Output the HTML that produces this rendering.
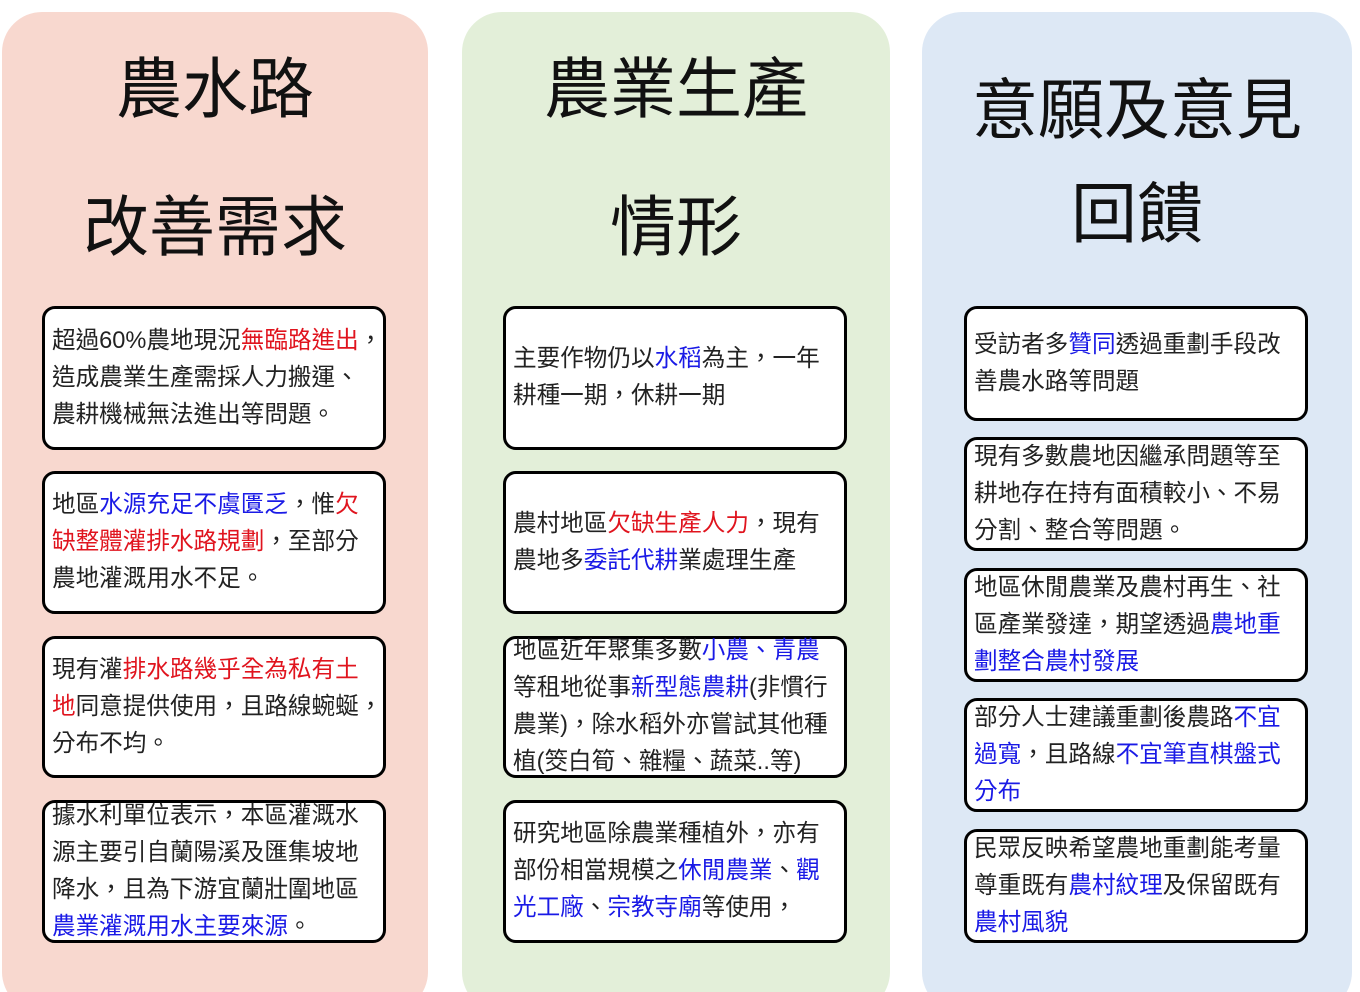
<!DOCTYPE html>
<html><head><meta charset="utf-8"><style>
html,body{margin:0;width:1360px;height:992px;overflow:hidden;}
body{background:#fff;position:relative;font-family:"Liberation Sans","Noto Sans CJK TC",sans-serif;}
.p{position:absolute;top:12px;height:1000px;border-radius:40px;}
.t{position:absolute;text-align:center;color:#111;font-size:66px;line-height:138px;font-family:"Liberation Sans","Noto Sans CJK TC",sans-serif;}
.b{position:absolute;background:#fff;border:3px solid #000;border-radius:13px;box-sizing:border-box;font-size:23.6px;line-height:37px;color:#222;padding:0 2px 0 7px;display:flex;align-items:center;white-space:nowrap;overflow:visible;}
.b div{width:100%}
.r{color:#e0141e}.u{color:#1a1ae6}
</style></head><body>
<div class="p" style="left:2px;width:426px;background:#f8d8cf"></div>
<div class="p" style="left:462px;width:428px;background:#e3efd9"></div>
<div class="p" style="left:922px;width:430px;background:#dde8f5"></div>
<div class="t" style="left:2px;width:426px;top:20px">農水路<br>改善需求</div>
<div class="t" style="left:462px;width:428px;top:20px">農業生產<br>情形</div>
<div class="t" style="left:922px;width:430px;top:58px;line-height:104px">意願及意見<br>回饋</div>

<div class="b" style="left:42px;top:306px;width:344px;height:144px"><div>超過60%農地現況<span class="r">無臨路進出</span>，<br>造成農業生產需採人力搬運、<br>農耕機械無法進出等問題。</div></div>
<div class="b" style="left:42px;top:471px;width:344px;height:143px"><div>地區<span class="u">水源充足不虞匱乏</span>，惟<span class="r">欠</span><br><span class="r">缺整體灌排水路規劃</span>，至部分<br>農地灌溉用水不足。</div></div>
<div class="b" style="left:42px;top:636px;width:344px;height:142px"><div>現有灌<span class="r">排水路幾乎全為私有土</span><br><span class="r">地</span>同意提供使用，且路線蜿蜒，<br>分布不均。</div></div>
<div class="b" style="left:42px;top:800px;width:344px;height:143px"><div>據水利單位表示，本區灌溉水<br>源主要引自蘭陽溪及匯集坡地<br>降水，且為下游宜蘭壯圍地區<br><span class="u">農業灌溉用水主要來源</span>。</div></div>

<div class="b" style="left:503px;top:306px;width:344px;height:144px"><div>主要作物仍以<span class="u">水稻</span>為主，一年<br>耕種一期，休耕一期</div></div>
<div class="b" style="left:503px;top:471px;width:344px;height:143px"><div>農村地區<span class="r">欠缺生產人力</span>，現有<br>農地多<span class="u">委託代耕</span>業處理生產</div></div>
<div class="b" style="left:503px;top:636px;width:344px;height:142px"><div>地區近年聚集多數<span class="u">小農、青農</span><br>等租地從事<span class="u">新型態農耕</span>(非慣行<br>農業)，除水稻外亦嘗試其他種<br>植(筊白筍、雜糧、蔬菜..等)</div></div>
<div class="b" style="left:503px;top:800px;width:344px;height:143px"><div>研究地區除農業種植外，亦有<br>部份相當規模之<span class="u">休閒農業</span>、<span class="u">觀</span><br><span class="u">光工廠</span>、<span class="u">宗教寺廟</span>等使用，</div></div>

<div class="b" style="left:964px;top:306px;width:344px;height:115px"><div>受訪者多<span class="u">贊同</span>透過重劃手段改<br>善農水路等問題</div></div>
<div class="b" style="left:964px;top:437px;width:344px;height:114px"><div>現有多數農地因繼承問題等至<br>耕地存在持有面積較小、不易<br>分割、整合等問題。</div></div>
<div class="b" style="left:964px;top:568px;width:344px;height:114px"><div>地區休閒農業及農村再生、社<br>區產業發達，期望透過<span class="u">農地重</span><br><span class="u">劃整合農村發展</span></div></div>
<div class="b" style="left:964px;top:698px;width:344px;height:114px"><div>部分人士建議重劃後農路<span class="u">不宜</span><br><span class="u">過寬</span>，且路線<span class="u">不宜筆直棋盤式</span><br><span class="u">分布</span></div></div>
<div class="b" style="left:964px;top:829px;width:344px;height:114px"><div>民眾反映希望農地重劃能考量<br>尊重既有<span class="u">農村紋理</span>及保留既有<br><span class="u">農村風貌</span></div></div>
</body></html>
